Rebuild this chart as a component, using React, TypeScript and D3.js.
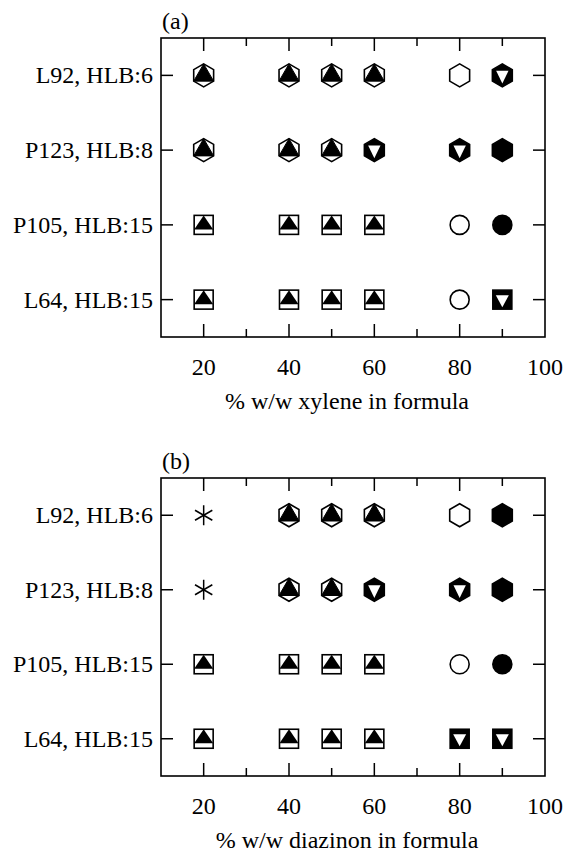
import React from "react";
import * as d3 from "d3";

// Surfactants, listed bottom row first
const categories = ["L64, HLB:15", "P105, HLB:15", "P123, HLB:8", "L92, HLB:6"];
// Formulation content (% w/w) sampled along the x axis
const xValues = [20, 40, 50, 60, 80, 90];
const xTickLabels = [20, 40, 60, 80, 100];
const xMajorTicks = [20, 40, 60, 80];
const xMinorTicks = [30, 50, 70, 90];

// Observed phase symbol per surfactant (same order as categories) and content
const xyleneSymbols = [
  ["sqUp", "sqUp", "sqUp", "sqUp", "circOpen", "sqDown"],
  ["sqUp", "sqUp", "sqUp", "sqUp", "circOpen", "circFilled"],
  ["hexUp", "hexUp", "hexUp", "hexDown", "hexDown", "hexFilled"],
  ["hexUp", "hexUp", "hexUp", "hexUp", "hexOpen", "hexDown"],
];
const diazinonSymbols = [
  ["sqUp", "sqUp", "sqUp", "sqUp", "sqDown", "sqDown"],
  ["sqUp", "sqUp", "sqUp", "sqUp", "circOpen", "circFilled"],
  ["star", "hexUp", "hexUp", "hexDown", "hexDown", "hexFilled"],
  ["star", "hexUp", "hexUp", "hexUp", "hexOpen", "hexFilled"],
];

const FONT = "'Liberation Serif', 'Times New Roman', serif";
const FS = 24;

const R = 11.5; // hexagon circumradius
const C = R * Math.cos(Math.PI / 6);
const hexPts: [number, number][] = [
  [0, -R], [C, -R / 2], [C, R / 2], [0, R], [-C, R / 2], [-C, -R / 2],
];
const poly = (pts: [number, number][]) =>
  "M" + pts.map((p) => p.join(",")).join("L") + "Z";

function Marker({ kind, x, y }: { kind: string; x: number; y: number }) {
  const t = `translate(${x},${y})`;
  const sw = 1.6;
  if (kind === "hexUp") {
    return (
      <g transform={t}>
        <path d={poly(hexPts)} fill="#fff" stroke="#000" strokeWidth={sw} />
        <path d={poly([[0, -R], [C, R / 2], [-C, R / 2]])} fill="#000" stroke="#000" strokeWidth={1} />
      </g>
    );
  }
  if (kind === "hexDown") {
    const k = 0.62;
    return (
      <g transform={t}>
        <path d={poly(hexPts)} fill="#000" stroke="#000" strokeWidth={sw} />
        <path d={poly([[-C * k, -R * k / 2 - 1], [C * k, -R * k / 2 - 1], [0, R * k + 1]])} fill="#fff" />
      </g>
    );
  }
  if (kind === "hexOpen" || kind === "hexFilled") {
    return (
      <g transform={t}>
        <path d={poly(hexPts)} fill={kind === "hexOpen" ? "#fff" : "#000"} stroke="#000" strokeWidth={sw} />
      </g>
    );
  }
  if (kind === "sqUp") {
    const h = 9.5;
    return (
      <g transform={t}>
        <rect x={-h} y={-h} width={2 * h} height={2 * h} fill="#fff" stroke="#000" strokeWidth={sw} />
        <path d={poly([[0, -h], [h, 4.5], [-h, 4.5]])} fill="#000" />
      </g>
    );
  }
  if (kind === "sqDown") {
    const h = 9.5;
    return (
      <g transform={t}>
        <rect x={-h} y={-h} width={2 * h} height={2 * h} fill="#000" stroke="#000" strokeWidth={sw} />
        <path d={poly([[-6.5, -4.5], [6.5, -4.5], [0, 7.5]])} fill="#fff" />
      </g>
    );
  }
  if (kind === "circOpen" || kind === "circFilled") {
    return (
      <circle cx={x} cy={y} r={9.5} fill={kind === "circOpen" ? "#fff" : "#000"} stroke="#000" strokeWidth={sw} />
    );
  }
  // asterisk
  const L = 10;
  return (
    <g transform={t} stroke="#000" strokeWidth={1.5}>
      {[90, 30, -30].map((a) => {
        const r = (a * Math.PI) / 180;
        return (
          <line key={a} x1={-L * Math.cos(r)} y1={-L * Math.sin(r)} x2={L * Math.cos(r)} y2={L * Math.sin(r)} />
        );
      })}
    </g>
  );
}

function Panel({
  top, bottom, tag, xLabel, symbols,
}: { top: number; bottom: number; tag: string; xLabel: string; symbols: string[][] }) {
  const left = 161;
  const right = 545;
  const x = d3.scaleLinear().domain([10, 100]).range([left, right]);
  const y = d3.scalePoint<string>().domain(categories).range([bottom, top]).padding(0.5);
  const major = 13;
  const minor = 8;
  const yt = 12;
  return (
    <g fontFamily={FONT} fontSize={FS} fill="#000">
      <text x={left + 1} y={top - 9}>{tag}</text>
      <rect x={left} y={top} width={right - left} height={bottom - top} fill="none" stroke="#000" strokeWidth={1.6} />
      {xMajorTicks.map((v) => (
        <g key={"M" + v} stroke="#000" strokeWidth={1.5}>
          <line x1={x(v)} x2={x(v)} y1={top} y2={top + major} />
          <line x1={x(v)} x2={x(v)} y1={bottom} y2={bottom - major} />
        </g>
      ))}
      {xMinorTicks.map((v) => (
        <g key={"m" + v} stroke="#000" strokeWidth={1.5}>
          <line x1={x(v)} x2={x(v)} y1={top} y2={top + minor} />
          <line x1={x(v)} x2={x(v)} y1={bottom} y2={bottom - minor} />
        </g>
      ))}
      {categories.map((c) => (
        <g key={c}>
          <line x1={left} x2={left + yt} y1={y(c)} y2={y(c)} stroke="#000" strokeWidth={1.5} />
          <line x1={right} x2={right - yt} y1={y(c)} y2={y(c)} stroke="#000" strokeWidth={1.5} />
          <text x={left - 8} y={(y(c) as number) + 8} textAnchor="end">{c}</text>
        </g>
      ))}
      {xTickLabels.map((v) => (
        <text key={"l" + v} x={x(v)} y={bottom + 38} textAnchor="middle">{v}</text>
      ))}
      <text x={347} y={bottom + 72} textAnchor="middle">{xLabel}</text>
      {symbols.map((row, i) =>
        row.map((k, j) => (
          <Marker key={i + "-" + j} kind={k} x={x(xValues[j])} y={y(categories[i]) as number} />
        ))
      )}
    </g>
  );
}

export default function App() {
  return (
    <div style={{ position: "absolute", left: 0, top: 0 }}>
      <svg width={565} height={853} style={{ display: "block", background: "#fff" }}>
        <rect width={565} height={853} fill="#fff" />
        <Panel top={38} bottom={337} tag="(a)" xLabel="% w/w xylene in formula" symbols={xyleneSymbols} />
        <Panel top={478} bottom={776} tag="(b)" xLabel="% w/w diazinon in formula" symbols={diazinonSymbols} />
      </svg>
    </div>
  );
}
